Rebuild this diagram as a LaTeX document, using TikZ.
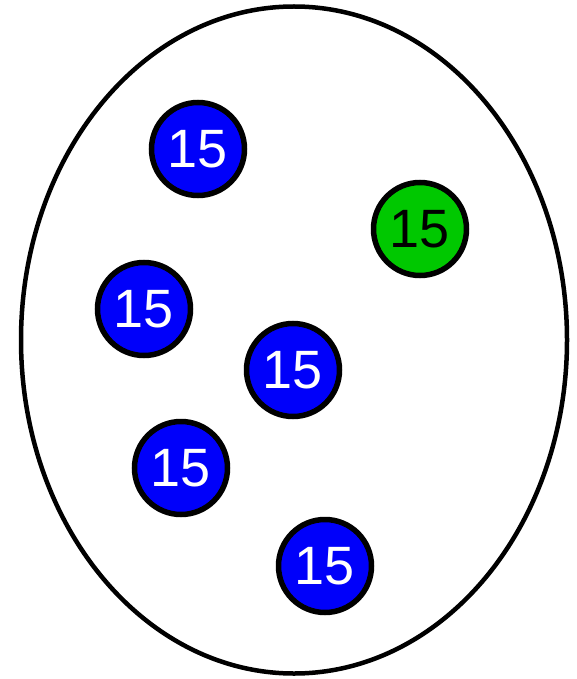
\documentclass[tikz,border=0pt]{standalone}
\usepackage{fontspec}
\setmainfont{Liberation Sans}
\usepackage{xcolor}
\usepackage{tikz}
\usetikzlibrary{positioning,shapes}
\definecolor{ballblue}{RGB}{0,0,250}
\definecolor{ballgreen}{RGB}{0,200,0}

\begin{document}
\begin{tikzpicture}[x=1pt,y=-1pt,
    ball/.style={circle,draw=black,line width=5.5pt,minimum size=93pt,inner sep=0pt,
                 font=\fontsize{54}{54}\selectfont},
    blueball/.style={ball,fill=ballblue,text=white},
    greenball/.style={ball,fill=ballgreen,text=black}]
    \useasboundingbox (0,0) rectangle (577,679);
    \node[ellipse,draw=black,line width=4.5pt,minimum width=546pt,minimum height=667pt,inner sep=0pt]
      (bag) at (294,340) {};
    \node[blueball]  (b1) at (198,149) {15};
    \node[greenball] (g1) at (420,229) {15};
    \node[blueball]  (b2) at (144,309) {15};
    \node[blueball]  (b3) at (293,370) {15};
    \node[blueball]  (b4) at (181,468) {15};
    \node[blueball]  (b5) at (325,566) {15};
  \end{tikzpicture}
\end{document}
